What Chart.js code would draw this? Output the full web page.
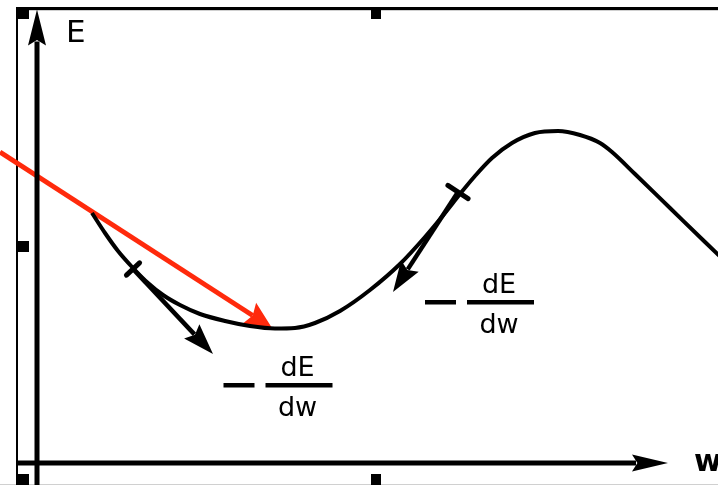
<!DOCTYPE html>
<html>
<head>
<meta charset="utf-8">
<script src="https://cdn.jsdelivr.net/npm/chart.js@4/dist/chart.umd.min.js"></script>
<style>
  html, body { margin: 0; padding: 0; background: #fff; }
  #wrap { width: 718px; height: 485px; }
</style>
</head>
<body>
<div id="wrap"><canvas id="errorChart" width="718" height="485"></canvas></div>
<script>
// Error surface E(w) sampled along the weight axis
const wValues = [5.5, 6.8, 8.1, 9.6, 11.1, 12.6, 14.3, 16.3, 18.8, 21.3, 23.8, 25.8, 27.8, 30.3,
                 33.3, 36.3, 38.8, 40.8, 42.3, 43.8, 45.5, 47.5, 49.8, 52.1, 54.3, 56.3, 57.5,
                 59.8, 63.3, 66.8, 69.3];
const eValues = [25.0, 23.0, 21.2, 19.5, 18.0, 16.8, 15.8, 14.9, 14.2, 13.7, 13.45, 13.5, 14.0, 15.2,
                 17.3, 19.9, 22.6, 25.0, 26.9, 28.7, 30.5, 32.0, 33.0, 33.2, 32.8, 32.0, 31.1,
                 28.9, 25.5, 22.1, 19.7];

// Gradient steps: start point on the curve and where the arrow points
const stepFrom = [[9.6, 19.4], [42.1, 27.1]];
const stepTo = [[17.6, 10.9], [35.6, 17.1]];

// Long jump straight into the minimum
const jumpFrom = [-3.7, 31.1];
const jumpTo = [23.5, 13.5];

// Where each "- dE/dw" fraction sits (centre of the fraction bar)
const gradLabelAt = [[26.15, 7.75], [46.3, 16.05]];

const axisLabels = ['E', 'w'];

const FONT = '"DejaVu Sans", sans-serif';

function arrow(ctx, x1, y1, x2, y2, color, width, headLen, headHalf) {
    const a = Math.atan2(y2 - y1, x2 - x1);
    const bx = x2 - Math.cos(a) * headLen;
    const by = y2 - Math.sin(a) * headLen;
    ctx.save();
    ctx.strokeStyle = color;
    ctx.fillStyle = color;
    ctx.lineWidth = width;
    ctx.lineCap = 'butt';
    ctx.beginPath();
    ctx.moveTo(x1, y1);
    ctx.lineTo(bx + Math.cos(a) * 4, by + Math.sin(a) * 4);
    ctx.stroke();
    ctx.beginPath();
    ctx.moveTo(x2, y2);
    ctx.lineTo(bx - Math.sin(a) * headHalf, by + Math.cos(a) * headHalf);
    ctx.lineTo(bx + Math.cos(a) * headLen * 0.15, by + Math.sin(a) * headLen * 0.15);
    ctx.lineTo(bx + Math.sin(a) * headHalf, by - Math.cos(a) * headHalf);
    ctx.closePath();
    ctx.fill();
    ctx.restore();
}

const diagram = {
    id: 'diagram',
    beforeDraw(chart) {
        const ctx = chart.ctx;
        const W = chart.width, H = chart.height;
        ctx.save();
        // frame
        ctx.fillStyle = '#d0d0d0';
        ctx.fillRect(17, 10, W - 17, 1);
        ctx.fillRect(0, H - 1, W, 1);
        ctx.fillStyle = '#000';
        ctx.fillRect(17, 7, W - 17, 3);
        ctx.fillRect(16, 7, 2, H - 7);
        // selection handles
        [[17, 8], [371, 8], [17, 241], [371, 474], [17, 474]].forEach(([x, y]) => {
            ctx.fillRect(x, y, x === 17 ? 12 : 10, 11);
        });
        ctx.restore();
    },
    beforeDatasetsDraw(chart) {
        const { ctx, scales: { x, y } } = chart;
        arrow(ctx, x.getPixelForValue(jumpFrom[0]), y.getPixelForValue(jumpFrom[1]),
              x.getPixelForValue(jumpTo[0]), y.getPixelForValue(jumpTo[1]),
              '#ff2a0c', 5, 27, 12.5);
    },
    afterDatasetsDraw(chart) {
        const { ctx, scales: { x, y } } = chart;
        // axes with arrow heads
        arrow(ctx, x.getPixelForValue(0), y.getPixelForValue(y.min),
              x.getPixelForValue(0), y.getPixelForValue(45.35), '#000', 5, 36, 9);
        arrow(ctx, x.getPixelForValue(-2.0), y.getPixelForValue(0),
              x.getPixelForValue(63.1), y.getPixelForValue(0), '#000', 5, 36, 8.5);

        // gradient step arrows with a tick across the start point
        stepFrom.forEach((p, i) => {
            const x1 = x.getPixelForValue(p[0]), y1 = y.getPixelForValue(p[1]);
            const x2 = x.getPixelForValue(stepTo[i][0]), y2 = y.getPixelForValue(stepTo[i][1]);
            arrow(ctx, x1, y1, x2, y2, '#000', 4.5, 31, 10.5);
            const a = Math.atan2(y2 - y1, x2 - x1);
            const half = i === 0 ? 9 : 12;
            ctx.save();
            ctx.strokeStyle = '#000';
            ctx.lineWidth = 5;
            ctx.lineCap = 'round';
            ctx.beginPath();
            ctx.moveTo(x1 - Math.sin(a) * half, y1 + Math.cos(a) * half);
            ctx.lineTo(x1 + Math.sin(a) * half, y1 - Math.cos(a) * half);
            ctx.stroke();
            ctx.restore();
        });

        ctx.save();
        ctx.fillStyle = '#000';
        // axis names
        ctx.font = '31px ' + FONT;
        ctx.textAlign = 'left';
        ctx.textBaseline = 'alphabetic';
        ctx.fillText(axisLabels[0], x.getPixelForValue(0) + 29, 42);
        ctx.font = 'bold 30px ' + FONT;
        ctx.fillText(axisLabels[1], x.getPixelForValue(63.1) + 26, y.getPixelForValue(0) + 8);

        // - dE/dw labels
        ctx.font = '27px ' + FONT;
        ctx.textAlign = 'center';
        gradLabelAt.forEach(([w, e]) => {
            const cx = x.getPixelForValue(w), cy = y.getPixelForValue(e);
            ctx.fillRect(cx - 75, cy - 2.5, 31, 4.5);
            ctx.fillRect(cx - 33, cy - 2.5, 67, 4.5);
            ctx.fillText('dE', cx - 1, cy - 10);
            ctx.fillText('dw', cx - 1, cy + 30);
        });
        ctx.restore();
    }
};

new Chart(document.getElementById('errorChart'), {
    type: 'line',
    data: {
        datasets: [{
            label: 'E(w)',
            data: wValues.map((w, i) => ({ x: w, y: eValues[i] })),
            borderColor: '#000',
            borderWidth: 4,
            pointRadius: 0,
            cubicInterpolationMode: 'monotone',
            fill: false
        }]
    },
    options: {
        responsive: false,
        animation: false,
        layout: { padding: 0 },
        scales: {
            x: { type: 'linear', min: -3.7, max: 68.1, display: false },
            y: { type: 'linear', min: -2.2, max: 46.3, display: false }
        },
        plugins: {
            legend: { display: false },
            tooltip: { enabled: false }
        }
    },
    plugins: [diagram]
});
</script>
</body>
</html>
